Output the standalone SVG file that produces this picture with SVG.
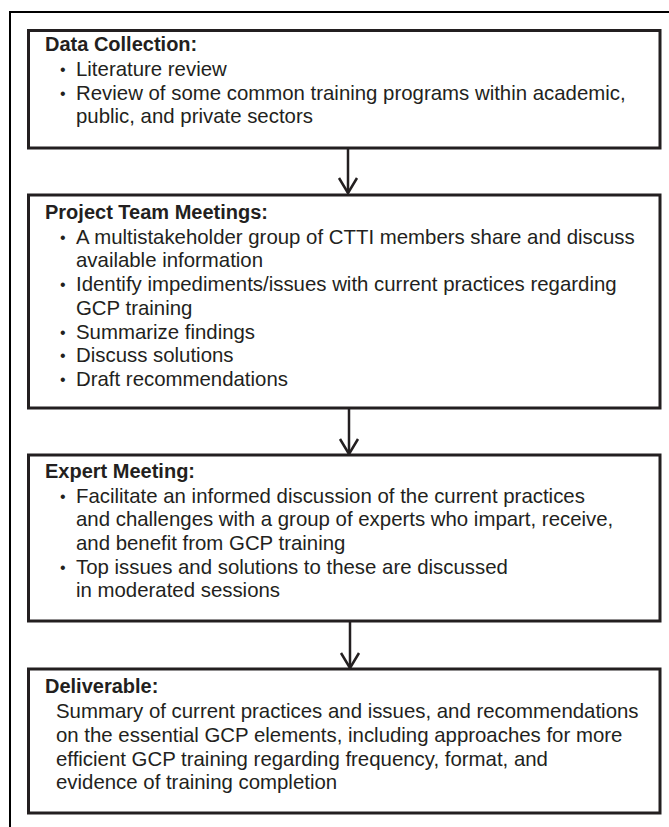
<svg xmlns="http://www.w3.org/2000/svg" width="669" height="827" viewBox="0 0 669 827">
<defs>
<style>
.box{fill:#fff;stroke:#231f20;stroke-width:3}
.t{font-family:"Liberation Sans",Arial,sans-serif;font-size:20.4px;fill:#231f20}
.h{font-weight:bold;font-size:20px}
.b{font-size:16px}
.conn{stroke:#231f20;stroke-width:2.5;fill:none}
</style>
<marker id="arr" markerUnits="userSpaceOnUse" markerWidth="24" markerHeight="20" refX="10" refY="16" orient="0" viewBox="0 0 20 20">
<path d="M1,1 L10,16 L19,1" fill="none" stroke="#231f20" stroke-width="2.5"/>
</marker>
</defs>
<rect width="669" height="827" fill="#fff"/>
<path d="M10,827 V12 H669" fill="none" stroke="#000" stroke-width="2"/>
<g id="connectors">
<line class="conn" x1="348" y1="148" x2="348" y2="193" marker-end="url(#arr)"/>
<line class="conn" x1="349" y1="408" x2="349" y2="454" marker-end="url(#arr)"/>
<line class="conn" x1="350" y1="621" x2="350" y2="668" marker-end="url(#arr)"/>
</g>
<g id="data-collection">
<rect class="box" x="28.5" y="30.5" width="631.5" height="117.5"/>
<text class="t h" x="45" y="51">Data Collection:</text>
<text class="t b" x="60" y="75">•</text><text class="t" x="76" y="76">Literature review</text>
<text class="t b" x="60" y="99">•</text><text class="t" x="76" y="100">Review of some common training programs within academic,</text>
<text class="t" x="76" y="123">public, and private sectors</text>
</g>
<g id="project-team">
<rect class="box" x="28.5" y="195" width="631.5" height="213"/>
<text class="t h" x="45" y="219">Project Team Meetings:</text>
<text class="t b" x="60" y="243">•</text><text class="t" x="76" y="244">A multistakeholder group of CTTI members share and discuss</text>
<text class="t" x="76" y="267">available information</text>
<text class="t b" x="60" y="290">•</text><text class="t" x="76" y="291">Identify impediments/issues with current practices regarding</text>
<text class="t" x="76" y="315">GCP training</text>
<text class="t b" x="60" y="338">•</text><text class="t" x="76" y="339">Summarize findings</text>
<text class="t b" x="60" y="361">•</text><text class="t" x="76" y="362">Discuss solutions</text>
<text class="t b" x="60" y="385">•</text><text class="t" x="76" y="386">Draft recommendations</text>
</g>
<g id="expert-meeting">
<rect class="box" x="28.5" y="455" width="631.5" height="166"/>
<text class="t h" x="45" y="478">Expert Meeting:</text>
<text class="t b" x="60" y="502">•</text><text class="t" x="76" y="503">Facilitate an informed discussion of the current practices</text>
<text class="t" x="76" y="526">and challenges with a group of experts who impart, receive,</text>
<text class="t" x="76" y="550">and benefit from GCP training</text>
<text class="t b" x="60" y="573">•</text><text class="t" x="76" y="574">Top issues and solutions to these are discussed</text>
<text class="t" x="76" y="597">in moderated sessions</text>
</g>
<g id="deliverable">
<rect class="box" x="28.5" y="669" width="631.5" height="144"/>
<text class="t h" x="45" y="693">Deliverable:</text>
<text class="t" x="56" y="718">Summary of current practices and issues, and recommendations</text>
<text class="t" x="56" y="742">on the essential GCP elements, including approaches for more</text>
<text class="t" x="56" y="766">efficient GCP training regarding frequency, format, and</text>
<text class="t" x="56" y="789">evidence of training completion</text>
</g>
</svg>
